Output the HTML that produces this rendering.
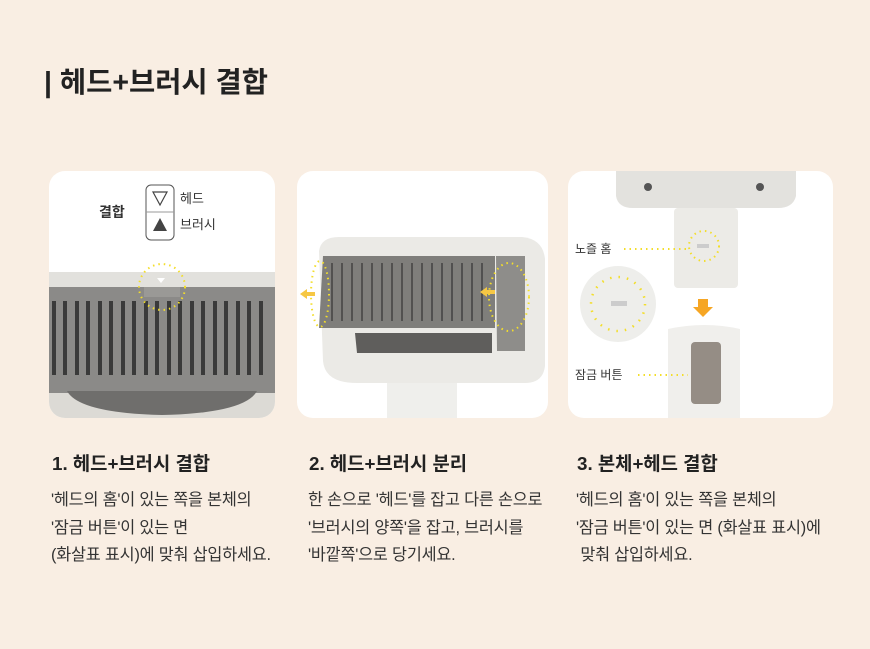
<!DOCTYPE html>
<html><head><meta charset="utf-8"><style>
body{margin:0;width:870px;height:649px;background:#f9eee3;font-family:"Liberation Sans","Noto Sans CJK KR",sans-serif;position:relative;overflow:hidden;color:#222}
.t{position:absolute;left:44px;top:60px;font-size:28.5px;font-weight:bold;letter-spacing:0px}
.card{position:absolute;top:171px;height:247px;background:#fff;border-radius:16px;overflow:hidden}
.h{position:absolute;top:449px;font-size:18.8px;font-weight:bold}
.p{position:absolute;top:487px;font-size:16.3px;line-height:27.5px;color:#333;white-space:nowrap;letter-spacing:-0.2px}
svg{position:absolute;left:0;top:0}
</style></head><body>
<div class="t">| 헤드+브러시 결합</div>

<div class="card" style="left:49px;width:226px">
<svg width="226" height="247" viewBox="0 0 226 247">
<text x="50" y="46" font-size="14" font-weight="bold" fill="#333" font-family="Liberation Sans,Noto Sans CJK KR,sans-serif">결합</text>
<rect x="97" y="14" width="28" height="55" rx="5" fill="none" stroke="#555" stroke-width="1"/>
<line x1="97" y1="41" x2="125" y2="41" stroke="#999"/>
<polygon points="104,21 118,21 111,34" fill="none" stroke="#444" stroke-width="1.2"/>
<polygon points="104,60 118,60 111,47" fill="#444"/>
<text x="131" y="32" font-size="13" fill="#333" font-family="Liberation Sans,Noto Sans CJK KR,sans-serif">헤드</text>
<text x="131" y="58" font-size="13" fill="#333" font-family="Liberation Sans,Noto Sans CJK KR,sans-serif">브러시</text>
<rect x="0" y="101" width="226" height="16" fill="#e2e1dd"/>
<rect x="0" y="116" width="226" height="106" fill="#8b8a88"/>
<path d="M0 222 H226 V247 H0Z" fill="#dcdad5"/>
<path d="M18 220 Q30 242 113 244 Q196 242 208 220Z" fill="#6f6e6c"/>
<rect x="95" y="116" width="36" height="10" fill="#9a9996"/>
<polygon points="108,107 116,107 112,112" fill="#fff"/>
<g fill="#3a3a3a">
<rect x="3" y="130" width="4" height="74"/><rect x="14" y="130" width="4" height="74"/><rect x="26" y="130" width="4" height="74"/><rect x="37" y="130" width="4" height="74"/><rect x="49" y="130" width="4" height="74"/><rect x="60" y="130" width="4" height="74"/><rect x="72" y="130" width="4" height="74"/><rect x="83" y="130" width="4" height="74"/><rect x="95" y="130" width="4" height="74"/><rect x="106" y="130" width="4" height="74"/><rect x="118" y="130" width="4" height="74"/><rect x="129" y="130" width="4" height="74"/><rect x="141" y="130" width="4" height="74"/><rect x="152" y="130" width="4" height="74"/><rect x="164" y="130" width="4" height="74"/><rect x="175" y="130" width="4" height="74"/><rect x="187" y="130" width="4" height="74"/><rect x="198" y="130" width="4" height="74"/><rect x="210" y="130" width="4" height="74"/>
</g>
<circle cx="113" cy="116" r="23" fill="none" stroke="#f3de2a" stroke-width="2" stroke-dasharray="1.5 4"/>
</svg></div>

<div class="card" style="left:297px;width:251px">
<svg width="251" height="247" viewBox="0 0 251 247">
<rect x="90" y="180" width="70" height="67" fill="#efefec"/>
<path d="M22 80 Q24 66 42 66 H225 Q246 68 248 88 V195 Q246 212 228 212 H60 Q28 212 26 190Z" fill="#ebeae6"/>
<path d="M26 85 H198 V157 H22Z" fill="#7f7e7b"/>
<path d="M199 85 H228 V180 H200Z" fill="#8e8d8a"/>
<path d="M58 162 H195 V182 H60Z" fill="#5f5e5c"/>
<g stroke="#333" stroke-width="1.2">
<line x1="35" y1="92" x2="35" y2="150"/><line x1="45" y1="92" x2="45" y2="150"/><line x1="55" y1="92" x2="55" y2="150"/><line x1="65" y1="92" x2="65" y2="150"/><line x1="75" y1="92" x2="75" y2="150"/><line x1="85" y1="92" x2="85" y2="150"/><line x1="95" y1="92" x2="95" y2="150"/><line x1="105" y1="92" x2="105" y2="150"/><line x1="115" y1="92" x2="115" y2="150"/><line x1="125" y1="92" x2="125" y2="150"/><line x1="135" y1="92" x2="135" y2="150"/><line x1="145" y1="92" x2="145" y2="150"/><line x1="155" y1="92" x2="155" y2="150"/><line x1="165" y1="92" x2="165" y2="150"/><line x1="175" y1="92" x2="175" y2="150"/><line x1="185" y1="92" x2="185" y2="150"/>
</g>
<ellipse cx="23" cy="123" rx="9" ry="33" fill="none" stroke="#f3de2a" stroke-width="2" stroke-dasharray="1.5 4"/>
<ellipse cx="212" cy="126" rx="20" ry="34" fill="none" stroke="#f3de2a" stroke-width="2" stroke-dasharray="1.5 4"/>
<path d="M3 123 L10 118 V121 H18 V125 H10 V128Z" fill="#f6c744"/>
<path d="M183 121 L190 116 V119 H198 V123 H190 V126Z" fill="#f6c744"/>
</svg></div>

<div class="card" style="left:568px;width:265px">
<svg width="265" height="247" viewBox="0 0 265 247">
<path d="M48 0 H228 V25 Q225 37 210 37 H65 Q50 37 48 25Z" fill="#e3e2de"/>
<circle cx="80" cy="16" r="4" fill="#555"/><circle cx="192" cy="16" r="4" fill="#555"/>
<rect x="106" y="37" width="64" height="80" rx="4" fill="#ecebe7"/>
<circle cx="136" cy="75" r="15" fill="none" stroke="#f3de2a" stroke-width="2" stroke-dasharray="1.5 4"/>
<rect x="129" y="73" width="12" height="4" fill="#ccc"/>
<line x1="56" y1="78" x2="118" y2="78" stroke="#f3de2a" stroke-width="2" stroke-dasharray="1.5 4"/>
<circle cx="50" cy="133" r="38" fill="#eeeeeb"/>
<circle cx="50" cy="133" r="27" fill="none" stroke="#f3de2a" stroke-width="2.5" stroke-dasharray="1.5 7"/>
<rect x="43" y="130" width="16" height="5" fill="#ccc"/>
<path d="M130 128 H140 V136 H145 L135 146 L125 136 H130Z" fill="#f6a624"/>
<path d="M100 158 Q137 150 172 158 V247 H100Z" fill="#f0efec"/>
<rect x="123" y="171" width="30" height="62" rx="4" fill="#958d85"/>
<line x1="70" y1="204" x2="120" y2="204" stroke="#f3de2a" stroke-width="2" stroke-dasharray="1.5 4"/>
<text x="7" y="82" font-size="12" fill="#333" font-family="Liberation Sans,Noto Sans CJK KR,sans-serif">노즐 홈</text>
<text x="7" y="208" font-size="12" fill="#333" font-family="Liberation Sans,Noto Sans CJK KR,sans-serif">잠금 버튼</text>
</svg></div>

<div class="h" style="left:52px">1. 헤드+브러시 결합</div>
<div class="p" style="left:51px">'헤드의 홈'이 있는 쪽을 본체의<br>'잠금 버튼'이 있는 면<br>(화살표 표시)에 맞춰 삽입하세요.</div>
<div class="h" style="left:309px">2. 헤드+브러시 분리</div>
<div class="p" style="left:308px">한 손으로 '헤드'를 잡고 다른 손으로<br>'브러시의 양쪽'을 잡고, 브러시를<br>'바깥쪽'으로 당기세요.</div>
<div class="h" style="left:577px">3. 본체+헤드 결합</div>
<div class="p" style="left:576px">'헤드의 홈'이 있는 쪽을 본체의<br>'잠금 버튼'이 있는 면 (화살표 표시)에<br>&nbsp;맞춰 삽입하세요.</div>
</body></html>
